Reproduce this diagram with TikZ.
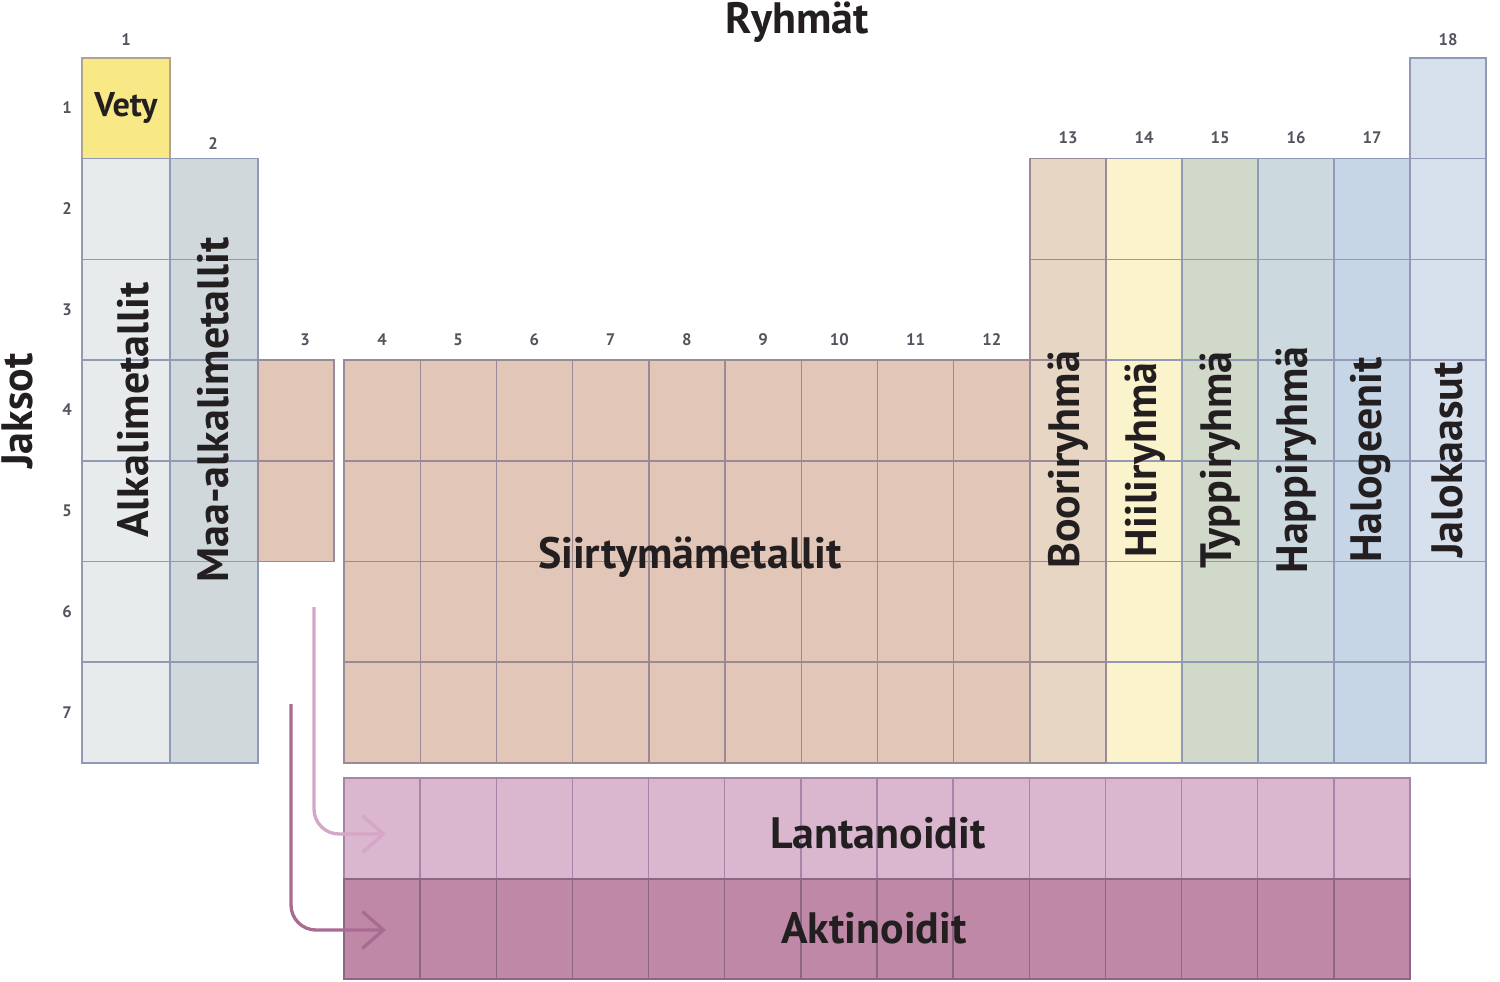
\documentclass[tikz,border=0pt]{standalone}
\usepackage{fontspec}
\setmainfont{PT Sans}
\usetikzlibrary{arrows.meta}
\definecolor{txt}{HTML}{231F20}
\definecolor{numc}{HTML}{55535E}
\definecolor{cH}{HTML}{F8E886}
\definecolor{cA}{HTML}{E8EBEC}
\definecolor{cB}{HTML}{D0D8DC}
\definecolor{cT}{HTML}{E2C6B8}
\definecolor{cXIII}{HTML}{E6D6C3}
\definecolor{cXIV}{HTML}{FBF3CB}
\definecolor{cXV}{HTML}{D1D9CA}
\definecolor{cXVI}{HTML}{CCDAE0}
\definecolor{cXVII}{HTML}{C6D6E6}
\definecolor{cXVIII}{HTML}{D7E1EE}
\definecolor{cL}{HTML}{DBB7CF}
\definecolor{cAc}{HTML}{BF88A6}
\definecolor{bBlue}{HTML}{9099B5}
\definecolor{bT}{HTML}{9A8A98}
\definecolor{bL}{HTML}{A585A8}
\definecolor{bAc}{HTML}{8E6585}
\definecolor{bH}{HTML}{B0A48A}
\definecolor{arL}{HTML}{D5A6C6}
\definecolor{arA}{HTML}{AA6B93}
\tikzset{
  cellbox/.style={line width=0.8pt},
  numlab/.style={text=numc, font=\bfseries\fontsize{9.5}{10}\selectfont, inner sep=0pt},
  biglab/.style={text=txt, font=\bfseries\fontsize{25}{28}\selectfont, inner sep=0pt},
  rotlab/.style={biglab, rotate=90},
  seriesarrow/.style={line width=1.9pt, rounded corners=0.5cm, -{Straight Barb[length=12pt,width=21pt,line width=1.9pt]}}
}
\begin{document}
\begin{tikzpicture}[x=0.02cm,y=-0.02cm]
\useasboundingbox (0,0) rectangle (1500,982);
% group 1
\filldraw[cellbox, fill=cH, draw=bH] (82,58) rectangle ++(88,100.7);
\foreach \r in {2,...,7} \filldraw[cellbox, fill=cA, draw=bBlue] (82,{58+(\r-1)*100.7}) rectangle ++(88,100.7);
% group 2
\foreach \r in {2,...,7} \filldraw[cellbox, fill=cB, draw=bBlue] (170,{58+(\r-1)*100.7}) rectangle ++(88,100.7);
% group 3
\foreach \r in {4,5} \filldraw[cellbox, fill=cT, draw=bT] (258,{58+(\r-1)*100.7}) rectangle ++(76,100.7);
% groups 4-12
\foreach \c in {4,...,12} \foreach \r in {4,...,7}
  \filldraw[cellbox, fill=cT, draw=bT] ({344+(\c-4)*76.22},{58+(\r-1)*100.7}) rectangle ++(76.22,100.7);
% groups 13-17
\foreach \c/\col in {14/cXIV,15/cXV,16/cXVI,17/cXVII} \foreach \r in {2,...,7}
  \filldraw[cellbox, fill=\col, draw=bBlue] ({1030+(\c-13)*76},{58+(\r-1)*100.7}) rectangle ++(76,100.7);
\foreach \r in {2,...,7} \filldraw[cellbox, fill=cXIII, draw=bT] (1030,{58+(\r-1)*100.7}) rectangle ++(76,100.7);
% group 18
\foreach \r in {1,...,7} \filldraw[cellbox, fill=cXVIII, draw=bBlue] (1410,{58+(\r-1)*100.7}) rectangle ++(76,100.7);
% lanthanoids / actinoids
\foreach \c in {0,...,13} {
  \filldraw[cellbox, fill=cL, draw=bL] ({344+\c*76.14},778) rectangle ++(76.14,101);
  \filldraw[cellbox, fill=cAc, draw=bAc] ({344+\c*76.14},879) rectangle ++(76.14,100);
}
% labels
\node[biglab] (ryhmat) at (797,22) {Ryhmät};
\node[rotlab] (jaksot) at (17,411) {Jaksot};
\node[text=txt, font=\bfseries\fontsize{19.5}{22}\selectfont, inner sep=0pt] (vety) at (126,108) {Vety};
\node[rotlab] (alkali) at (133,410) {Alkalimetallit};
\node[rotlab] (maa) at (213,410) {Maa-alkalimetallit};
\node[biglab] (siirty) at (690,557) {Siirtymämetallit};
\node[rotlab] (boori) at (1068,460) {Booriryhmä};
\node[rotlab] (hiili) at (1145,460) {Hiiliryhmä};
\node[rotlab] (typpi) at (1220,460) {Typpiryhmä};
\node[rotlab] (happi) at (1296,460) {Happiryhmä};
\node[rotlab] (halo) at (1371,460) {Halogeenit};
\node[rotlab] (jalo) at (1447,460) {Jalokaasut};
\node[biglab] (lantan) at (878,833) {Lantanoidit};
\node[biglab] (aktin) at (874,928) {Aktinoidit};
% group numbers
\node[numlab] (g1) at (126,40) {1};
\node[numlab] (g2) at (213,144) {2};
\node[numlab] (g3) at (305,340) {3};
\foreach \c in {4,...,12} \node[numlab] (g\c) at ({382+(\c-4)*76.22},340) {\c};
\foreach \c in {13,...,17} \node[numlab] (g\c) at ({1068+(\c-13)*76},138) {\c};
\node[numlab] (g18) at (1448,40) {18};
% period numbers
\foreach \r in {1,...,7} \node[numlab] (p\r) at (67,{108+(\r-1)*100.7}) {\r};
% arrows
\coordinate (lstart) at (314,607);
\coordinate (lend) at (386,834);
\coordinate (astart) at (291,704);
\coordinate (aend) at (386,930);
\draw[seriesarrow, draw=arL] (lstart) |- (lend);
\draw[seriesarrow, draw=arA] (astart) |- (aend);
\end{tikzpicture}
\end{document}
